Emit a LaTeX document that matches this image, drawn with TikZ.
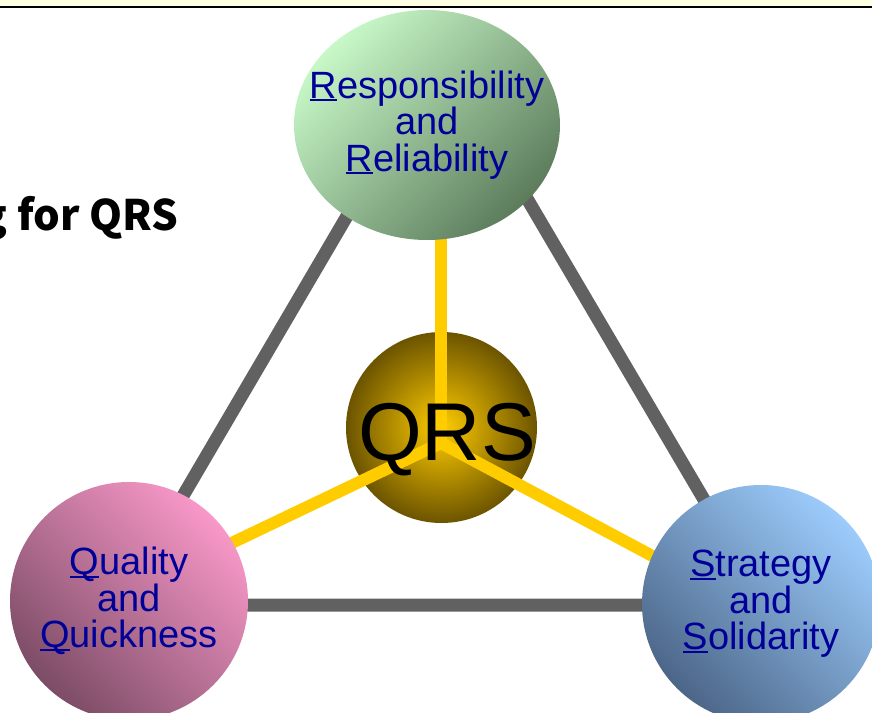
\documentclass[tikz,border=0pt]{standalone}
\usepackage{fontspec}
\setmainfont{Liberation Sans}
\newfontfamily\titlefont{Noto Sans CJK JP}
\usetikzlibrary{shapes.geometric}

\definecolor{strip}{HTML}{FFFFE4}
\definecolor{bargray}{HTML}{616161}
\definecolor{spokeyellow}{HTML}{FFCC00}
\definecolor{labelblue}{HTML}{000099}
\definecolor{greenlight}{HTML}{C8F8C8}
\definecolor{greendark}{HTML}{5C7C5C}
\definecolor{pinklight}{HTML}{F898C8}
\definecolor{pinkdark}{HTML}{7C4C66}
\definecolor{bluelight}{HTML}{9CCCFC}
\definecolor{bluedark}{HTML}{4C6688}
\definecolor{hubdark}{HTML}{6C5400}

\pgfdeclarelayer{back}
\pgfdeclarelayer{mid}
\pgfsetlayers{back,mid,main}

% first letter underlined
\newcommand{\firstul}[1]{\setbox0\hbox{#1}\rlap{\rule[-3pt]{\wd0}{2pt}}#1}

\begin{document}
\begin{tikzpicture}[x=1pt, y=-1pt,
  bubble/.style={inner sep=0pt, align=center, text=labelblue,
                 font=\fontsize{38}{36.5}\selectfont},
  bar/.style={line width=13, draw=bargray, line join=miter},
  spoke/.style={line width=12, draw=spokeyellow}]

  \useasboundingbox (0,0) rectangle (872,712);

  % Header
  \fill[strip] (0,0) rectangle (872,6);
  \draw[line width=2.2] (0,7) -- (872,7);
  \draw (182,230) node(title) [anchor=base east] {\titlefont\bfseries\fontsize{42}{42}\selectfont g for QRS};

  % Nodes
  \draw (427,125) node(rr) [bubble, ellipse, inner xsep=-30pt, minimum width=266, minimum height=230,
        top color=greenlight, bottom color=greendark, shading angle=45]
        {\firstul{R}esponsibility\\and\\\firstul{R}eliability};
  \draw (129,601) node(qq) [bubble, circle, minimum size=238,
        top color=pinklight, bottom color=pinkdark, shading angle=-45]
        {\firstul{Q}uality\\and\\\firstul{Q}uickness};
  \draw (761,604) node(ss) [bubble, circle, minimum size=238,
        top color=bluelight, bottom color=bluedark, shading angle=-45]
        {\firstul{S}trategy\\and\\\firstul{S}olidarity};
  \draw (447,460) node(qrstext) [anchor=base, inner sep=0pt, font=\fontsize{82}{82}\selectfont] {QRS};

  % Triangle and hub
  \begin{pgfonlayer}{back}
    \coordinate (vr) at (442,54);
    \coordinate (vq) at (119,605);
    \coordinate (vs) at (766,605);
    \draw[bar] (vr) -- (vq) -- (vs) -- cycle;
    \draw (441.5,427.5) node(qrs) [circle, minimum size=191, inner sep=0pt,
          inner color=spokeyellow, outer color=hubdark] {};
  \end{pgfonlayer}

  % Spokes
  \begin{pgfonlayer}{mid}
    \coordinate (hub) at (441,443);
    \draw[spoke] (hub) -- (hub |- rr.center);
    \draw[spoke] (hub) -- ([yshift=9pt]qq.center);
    \draw[spoke] (hub) -- ([yshift=-10pt]ss.center);
  \end{pgfonlayer}
\end{tikzpicture}
\end{document}
